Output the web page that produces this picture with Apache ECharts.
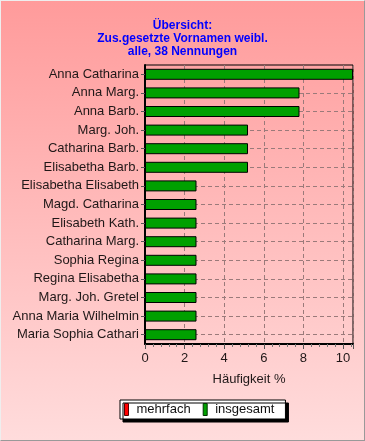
<!DOCTYPE html>
<html><head><meta charset="utf-8">
<script src="https://cdn.jsdelivr.net/npm/echarts@6/dist/echarts.min.js"></script>
<style>
html,body{margin:0;padding:0;}
#c{width:365px;height:441px;box-sizing:border-box;border-right:1px solid #999;border-bottom:1px solid #999;border-top:1px solid #eee;border-left:1px solid #eee;background:linear-gradient(#ff9b9b,#ffdcdc);}
</style></head><body>
<div id="c"></div>
<script>
const titleLines = ['Übersicht:', 'Zus.gesetzte Vornamen weibl.', 'alle, 38 Nennungen'];
const categories = ['Anna Catharina','Anna Marg.','Anna Barb.','Marg. Joh.','Catharina Barb.','Elisabetha Barb.','Elisabetha Elisabeth','Magd. Catharina','Elisabeth Kath.','Catharina Marg.','Sophia Regina','Regina Elisabetha','Marg. Joh. Gretel','Anna Maria Wilhelmin','Maria Sophia Cathari'];
const insgesamt = [10.5,7.8,7.8,5.2,5.2,5.2,2.6,2.6,2.6,2.6,2.6,2.6,2.6,2.6,2.6];
const mehrfach = [0,0,0,0,0,0,0,0,0,0,0,0,0,0,0];
const xTicks = [0,2,4,6,8,10];
const xName = 'Häufigkeit %';

const chart = echarts.init(document.getElementById('c'));
const txt = '#201818';
const ff = 'Liberation Sans, Arial, sans-serif';
const grid = '#9a7a7a';
chart.setOption({
  animation:false,
  textStyle:{fontFamily:ff},
  title:{text:titleLines.join('\n'),left:'center',top:13,
    textStyle:{color:'#0000ff',fontSize:12,fontWeight:'bold',lineHeight:13,fontFamily:ff}},
  legend:{top:399,left:119,itemWidth:4,itemHeight:12,itemGap:12,icon:'rect',
    padding:[3,11,3,4],
    backgroundColor:'#fff',borderColor:'#000',borderWidth:1,borderRadius:0,
    shadowColor:'#000',shadowOffsetX:3,shadowOffsetY:3,shadowBlur:0,
    textStyle:{color:'#111',fontSize:13,fontFamily:ff,padding:[0,0,0,3]},
    data:[{name:'mehrfach',itemStyle:{color:'#ff0000',borderColor:'#500',borderWidth:1}},
          {name:'insgesamt',itemStyle:{color:'#00a000',borderColor:'#030',borderWidth:1}}]},
  grid:{left:144,right:11,top:64,bottom:96,show:true,borderColor:'#000',borderWidth:1,backgroundColor:'transparent'},
  xAxis:{type:'value',min:0,max:10.5,interval:2,
    name:xName,nameLocation:'middle',nameGap:29,nameTextStyle:{color:txt,fontSize:13,fontFamily:ff},
    axisLine:{show:true,lineStyle:{color:'#000',width:2}},
    axisTick:{show:true,length:5,lineStyle:{color:'#555'}},
    minorTick:{show:true,splitNumber:5,length:3,lineStyle:{color:'#777'}},
    axisLabel:{color:txt,fontSize:13,fontFamily:ff,margin:8,
      formatter:v=>xTicks.includes(v)?String(v):''},
    splitLine:{show:true,lineStyle:{color:grid,type:[4,3],width:1}}},
  yAxis:{type:'category',inverse:true,data:categories,
    axisLine:{show:true,lineStyle:{color:'#000',width:2}},
    axisTick:{show:true,length:4,alignWithLabel:true,lineStyle:{color:'#555'}},
    axisLabel:{color:txt,fontSize:13,fontFamily:ff,margin:6},
    splitLine:{show:false}},
  series:[
    {name:'mehrfach',type:'bar',data:mehrfach,barWidth:11,barGap:'-100%',z:3,
      itemStyle:{color:'#ff0000',borderColor:'#000',borderWidth:0},
      markLine:{silent:true,symbol:'none',z:1,label:{show:false},
        lineStyle:{color:grid,type:[4,3],width:1},
        data:categories.map(c=>({yAxis:c}))}},
    {name:'insgesamt',type:'bar',data:insgesamt,barWidth:11,z:4,
      itemStyle:{color:'#00a000',borderColor:'#000',borderWidth:1}}
  ]
});
</script></body></html>
